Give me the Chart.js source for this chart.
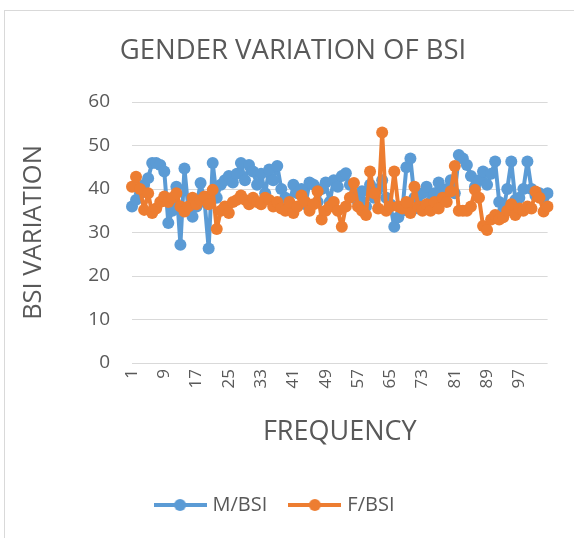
<!DOCTYPE html>
<html>
<head>
<meta charset="utf-8">
<script src="https://cdn.jsdelivr.net/npm/chart.js"></script>
<style>
  body { margin: 0; background: #fff; }
  #wrap { position: relative; width: 574px; height: 538px; overflow: hidden; }
  #frame { position: absolute; left: 4px; top: 10px; width: 600px; height: 600px; border: 1px solid #d9d9d9; }
  #chart { position: absolute; left: 0; top: 0; }
</style>
</head>
<body>
<div id="wrap">
  <div id="frame"></div>
  <canvas id="chart" width="574" height="538"></canvas>
</div>
<script>
// categories 1..104 (sample number)
const frequency = Array.from({ length: 104 }, (_, i) => String(i + 1));

const maleBSI = [
  36, 37.5, 39, 41, 42.5, 46, 46, 45.5, 44, 32.2,
  35, 40.5, 27.2, 44.7, 35, 33.6, 36, 41.4, 37, 26.3,
  46, 38, 41, 42, 43, 41.5, 43.5, 46, 42, 45.5,
  44, 41, 43.5, 39, 44.5, 42, 45.3, 40, 38, 35.5,
  41, 39, 40, 36.5, 41.5, 41, 37, 40, 41.5, 37,
  42, 40.5, 43, 43.6, 41, 38.5, 37, 39.5, 36, 41,
  38, 40, 42, 38, 36.5, 31.3, 33.5, 35, 45, 47,
  38, 35.5, 39, 40.5, 37, 39, 41.5, 38, 40, 42,
  39, 47.8, 47, 45.5, 43, 40.5, 42, 44, 41, 43.5,
  46.3, 37, 35, 40, 46.3, 37.5, 38, 40, 46.3, 40,
  38.5, 39, 38, 39
];

const femaleBSI = [
  40.5, 42.8, 40, 35.2, 39, 34.5, 35.5, 37, 38.3, 37,
  38, 39, 36, 34.8, 36, 38, 36.5, 37.5, 38.3, 36.5,
  39.8, 30.8, 35, 36, 34.5, 37, 37.5, 38.5, 37.5, 36.5,
  38, 37, 36.5, 38, 37.5, 36, 37, 35.5, 35, 37,
  34.5, 36, 38.5, 37, 35, 36.5, 39.5, 33, 35, 36,
  37, 35, 31.3, 36, 38, 41.4, 36, 35, 34, 44,
  39, 35.5, 53, 35, 36, 44, 36, 35.5, 37, 34.5,
  40.5, 36, 35, 36.5, 35, 37, 35.5, 38, 37, 39.5,
  45.3, 35, 35, 35, 36, 39.8, 38, 31.5, 30.6, 33,
  34, 33, 33.5, 35, 36.5, 34, 35.5, 35, 36, 35.5,
  39.4, 38, 34.8, 36
];

const yTicks = [0, 10, 20, 30, 40, 50, 60];

const BLUE = '#5b9bd5';
const ORANGE = '#ed7d31';
const TEXT = '#595959';
const GRID = '#d9d9d9';
const FONT = "'Open Sans', sans-serif";

// legend marker: short line with a dot in the middle
function legendMark(color) {
    const c = document.createElement('canvas');
    c.width = 53;
    c.height = 14;
    const g = c.getContext('2d');
    g.strokeStyle = color;
    g.lineWidth = 4;
    g.beginPath();
    g.moveTo(0, 7);
    g.lineTo(53, 7);
    g.stroke();
    g.fillStyle = color;
    g.beginPath();
    g.arc(26.5, 7, 6, 0, Math.PI * 2);
    g.fill();
    return c;
}
const marks = [legendMark(BLUE), legendMark(ORANGE)];

// the original chart is wider than the crop, so its title sits right of centre
const nudgeTitle = {
    id: 'nudgeTitle',
    afterLayout(chart) {
        chart.titleBlock.left += 17;
        chart.titleBlock.right += 17;
    }
};

new Chart(document.getElementById('chart'), {
    type: 'line',
    data: {
        labels: frequency,
        datasets: [{
            label: 'M/BSI',
            data: maleBSI,
            borderColor: BLUE,
            backgroundColor: BLUE,
            borderWidth: 4,
            borderJoinStyle: 'round',
            borderCapStyle: 'round',
            pointRadius: 6,
            pointBorderWidth: 0,
            pointBackgroundColor: BLUE,
            order: 1
        }, {
            label: 'F/BSI',
            data: femaleBSI,
            borderColor: ORANGE,
            backgroundColor: ORANGE,
            borderWidth: 4,
            borderJoinStyle: 'round',
            borderCapStyle: 'round',
            pointRadius: 6,
            pointBorderWidth: 0,
            pointBackgroundColor: ORANGE,
            order: 0
        }]
    },
    plugins: [nudgeTitle],
    options: {
        responsive: false,
        animation: false,
        layout: { padding: { left: 0, right: 22, top: 12, bottom: 13 } },
        plugins: {
            title: {
                display: true,
                text: 'GENDER VARIATION OF BSI',
                color: TEXT,
                font: { family: FONT, size: 27.5, weight: 'normal' },
                padding: { top: 23, bottom: 34 }
            },
            legend: {
                position: 'bottom',
                labels: {
                    color: TEXT,
                    font: { family: FONT, size: 20 },
                    usePointStyle: true,
                    pointStyleWidth: 45,
                    padding: 25,
                    sort: (a, b) => a.datasetIndex - b.datasetIndex,
                    generateLabels: (chart) => {
                        const items = Chart.defaults.plugins.legend.labels.generateLabels(chart);
                        items.forEach(it => { it.pointStyle = marks[it.datasetIndex]; });
                        return items;
                    }
                }
            },
            tooltip: { enabled: false }
        },
        scales: {
            x: {
                offset: false,
                grid: { display: false, drawTicks: false },
                border: { display: false },
                ticks: {
                    color: TEXT,
                    font: { family: FONT, size: 17 },
                    autoSkip: false,
                    maxRotation: 90,
                    minRotation: 90,
                    padding: 6,
                    callback: (v, i) => (i % 8 === 0 ? frequency[i] : '')
                },
                title: {
                    display: true,
                    text: 'FREQUENCY',
                    color: TEXT,
                    font: { family: FONT, size: 27 },
                    padding: { top: 0, bottom: 21 }
                },
                afterFit: (s) => { s.height = 107; }
            },
            y: {
                min: 0,
                max: 60,
                grid: { color: GRID, drawTicks: false },
                border: { display: false },
                ticks: {
                    color: TEXT,
                    font: { family: FONT, size: 19 },
                    stepSize: 10,
                    padding: 22,
                    callback: (v) => (yTicks.includes(v) ? v : '')
                },
                title: {
                    display: true,
                    text: 'BSI VARIATION',
                    color: TEXT,
                    font: { family: FONT, size: 25.5 },
                    padding: { top: 18, bottom: 0 }
                },
                afterFit: (s) => { s.width = 132; }
            }
        }
    }
});
</script>
</body>
</html>
